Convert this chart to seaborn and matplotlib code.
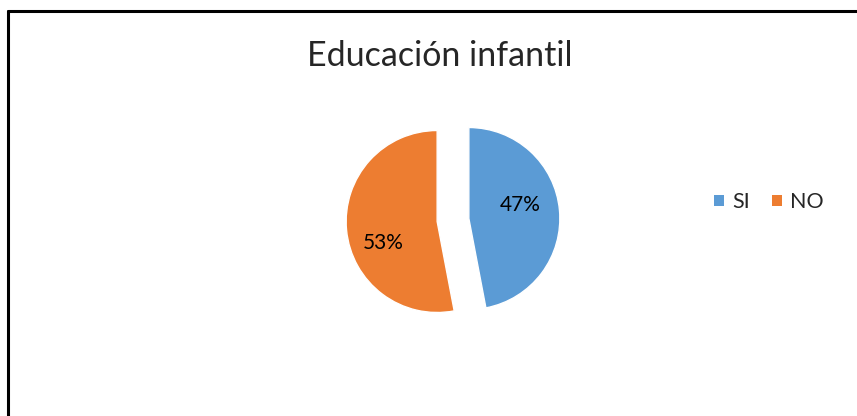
import matplotlib
matplotlib.use("Agg")
import matplotlib.pyplot as plt
import seaborn as sns
from matplotlib.lines import Line2D
from matplotlib.patches import Patch

# datos
categorias = ["SI", "NO"]
porcentajes = [47, 53]
colores = ["#5B9BD5", "#ED7D31"]
titulo = "Educación infantil"

sns.set_theme(style="white")
plt.rcParams['font.family'] = ['Lato', 'DejaVu Sans']

W, H = 857, 416
fig = plt.figure(figsize=(W / 100, H / 100), dpi=100)

# eje de la tarta, 1 unidad = ~91 px
r_px = 91
cx, cy = 453, 220
lim = 1.3
aw = 2 * lim * r_px
ax = fig.add_axes([(cx - aw / 2) / W, (H - cy - aw / 2) / H, aw / W, aw / H])

wedges, texts, autotexts = ax.pie(
    porcentajes,
    colors=colores,
    startangle=90,
    counterclock=False,
    explode=[0.175, 0.175],
    autopct=lambda p: f"{p:.0f}%",
    pctdistance=0.62,
    textprops={"fontsize": 15, "color": "black"},
)
# ajuste de las etiquetas como en Excel
ajustes = [(-0.05, 0.09), (0.03, -0.18)]
for t, (dx, dy) in zip(autotexts, ajustes):
    x, y = t.get_position()
    t.set_position((x + dx, y + dy))

ax.set_xlim(-lim, lim)
ax.set_ylim(-lim, lim)
ax.set_aspect("equal")
ax.axis("off")

fig.text(440 / W, 1 - 56 / H, titulo, ha="center", va="center", fontsize=24.5)

handles = [Patch(facecolor=c, edgecolor="none") for c in colores]
fig.legend(handles, categorias, loc="center", bbox_to_anchor=(769 / W, 1 - 202 / H),
           ncol=2, frameon=False, fontsize=15.5, handlelength=0.45, handleheight=0.45,
           handletextpad=0.4, columnspacing=1.0)

# borde del gráfico (izquierda y arriba)
fig.add_artist(Line2D([8 / W, 8 / W], [0, 1 - 11 / H], color="black", lw=2.2))
fig.add_artist(Line2D([8 / W, 1], [1 - 11 / H, 1 - 11 / H], color="black", lw=2.2))

fig.savefig("out.png", dpi=100, facecolor="white")
